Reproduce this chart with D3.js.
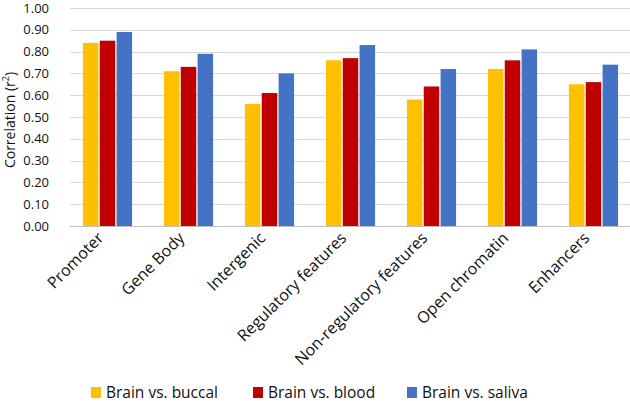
<html>
<head>
<script src="https://d3js.org/d3.v7.min.js"></script>
<style>
  body { margin: 0; background: #fff; }
  text { font-family: "Open Sans", "Noto Sans", sans-serif; fill: #111; }
</style>
</head>
<body>
<div id="chart"></div>
<script>
var categories = ["Promoter", "Gene Body", "Intergenic", "Regulatory features",
  "Non-regulatory features", "Open chromatin", "Enhancers"];
var seriesNames = ["Brain vs. buccal", "Brain vs. blood", "Brain vs. saliva"];
var buccal = [0.84, 0.71, 0.56, 0.76, 0.58, 0.72, 0.65];
var blood  = [0.85, 0.73, 0.61, 0.77, 0.64, 0.76, 0.66];
var saliva = [0.89, 0.79, 0.70, 0.83, 0.72, 0.81, 0.74];
var yTicks = [0, 0.1, 0.2, 0.3, 0.4, 0.5, 0.6, 0.7, 0.8, 0.9, 1.0];
var colors = ["#FFC000", "#C00000", "#4472C4"];

var W = 630, H = 401;
var mLeft = 67, mRight = 634, mTop = 8, mBottom = 226;

var svg = d3.select("#chart").append("svg")
  .attr("width", W).attr("height", H);

var x = d3.scaleBand().domain(categories).range([mLeft, mRight]).paddingInner(0.36).paddingOuter(0.18);
var y = d3.scaleLinear().domain([0, 1]).range([mBottom, mTop]);
var xs = d3.scaleBand().domain(seriesNames).range([0, x.bandwidth()]).padding(0.08);

// grid
svg.append("g").selectAll("line").data(yTicks.slice(1)).enter().append("line")
  .attr("x1", 70).attr("x2", W)
  .attr("y1", function(d) { return Math.round(y(d)) + 0.5; })
  .attr("y2", function(d) { return Math.round(y(d)) + 0.5; })
  .attr("stroke", "#d9d9d9").attr("stroke-width", 1);

// y tick labels
svg.append("g").selectAll("text").data(yTicks).enter().append("text")
  .attr("x", 49).attr("y", function(d) { return y(d) + 4.5; })
  .attr("text-anchor", "end").attr("font-size", 13)
  .text(function(d) { return d.toFixed(2); });

// axis title
var yt = svg.append("text")
  .attr("transform", "translate(15,120) rotate(-90)")
  .attr("text-anchor", "middle").attr("font-size", 14);
yt.append("tspan").text("Correlation (r");
yt.append("tspan").attr("font-size", 9).attr("dy", -6).text("2");
yt.append("tspan").attr("dy", 6).text(")");

// bars
var data = categories.map(function(c, i) {
  return { cat: c, vals: [buccal[i], blood[i], saliva[i]] };
});
var g = svg.append("g").selectAll("g").data(data).enter().append("g")
  .attr("transform", function(d) { return "translate(" + x(d.cat) + ",0)"; });
g.selectAll("rect").data(function(d) {
    return d.vals.map(function(v, j) { return { s: seriesNames[j], v: v, j: j }; });
  }).enter().append("rect")
  .attr("x", function(d) { return xs(d.s); })
  .attr("width", xs.bandwidth())
  .attr("y", function(d) { return y(d.v); })
  .attr("height", function(d) { return mBottom - y(d.v); })
  .attr("fill", function(d) { return colors[d.j]; });

// baseline
svg.append("line").attr("x1", 70).attr("x2", W)
  .attr("y1", mBottom + 0.5).attr("y2", mBottom + 0.5)
  .attr("stroke", "#bfbfbf");

// x labels
svg.append("g").selectAll("text").data(categories).enter().append("text")
  .attr("transform", function(d) {
    return "translate(" + (x(d) + x.bandwidth() / 2 - 3) + "," + (mBottom + 13) + ") rotate(-45)";
  })
  .attr("text-anchor", "end").attr("font-size", 16)
  .text(function(d) { return d; });

// legend
var legX = [91, 253, 407];
var lg = svg.append("g").selectAll("g").data(seriesNames).enter().append("g")
  .attr("transform", function(d, i) { return "translate(" + legX[i] + ",387)"; });
lg.append("rect").attr("width", 10).attr("height", 11)
  .attr("fill", function(d, i) { return colors[i]; });
lg.append("text").attr("x", 15).attr("y", 10.5).attr("font-size", 15.5)
  .text(function(d) { return d; });
</script>
</body>
</html>
